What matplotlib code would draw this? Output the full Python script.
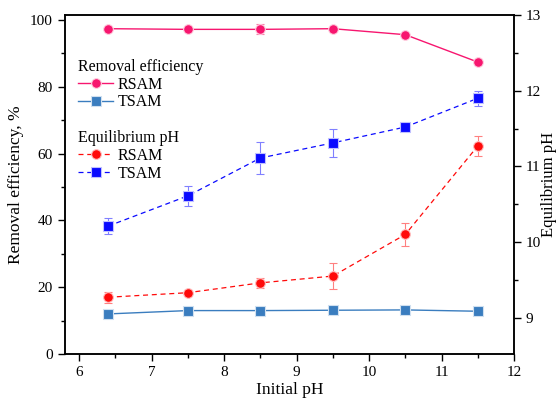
import matplotlib.pyplot as plt
from matplotlib.ticker import MultipleLocator

plt.rcParams['font.family'] = ['Liberation Serif', 'DejaVu Serif']
plt.rcParams['xtick.direction'] = 'out'
plt.rcParams['ytick.direction'] = 'out'

# data
initial_ph = [6.4, 7.5, 8.5, 9.5, 10.5, 11.5]
rsam_removal = [97.4, 97.2, 97.2, 97.4, 95.6, 87.4]
rsam_removal_err = [0.5, 0.6, 1.5, 0.5, 0.6, 1.0]
tsam_removal = [12.0, 13.0, 13.0, 13.1, 13.2, 12.8]
tsam_removal_err = [0.3, 0.3, 0.3, 0.3, 0.3, 0.3]
rsam_eq_ph = [9.27, 9.33, 9.46, 9.55, 10.10, 11.27]
rsam_eq_err = [0.07, 0.04, 0.07, 0.17, 0.15, 0.13]
tsam_eq_ph = [10.21, 10.61, 11.11, 11.31, 11.52, 11.90]
tsam_eq_err = [0.11, 0.13, 0.21, 0.19, 0.03, 0.10]

fig = plt.figure(figsize=(5.57, 4.0), dpi=100)
ax = fig.add_axes([0.116, 0.115, 0.807, 0.8475])
ax2 = ax.twinx()

pink = '#f7166f'
steel = '#3a7dbf'
red = '#ff0a0a'
blue = '#0a0aff'

l1 = ax.errorbar(initial_ph, rsam_removal, yerr=rsam_removal_err, color=pink,
                 marker='o', ms=7, mec='#ffd0e0', mew=0.8, lw=1.0, capsize=3,
                 elinewidth=0.8, ecolor='#f77aa8')
l2 = ax.errorbar(initial_ph, tsam_removal, yerr=tsam_removal_err, color=steel,
                 marker='s', ms=6.5, mec='#d0e0f0', mew=0.8, lw=1.0, capsize=3,
                 elinewidth=0.8, ecolor='#8ab0d8')

l3 = ax2.errorbar(initial_ph, rsam_eq_ph, yerr=rsam_eq_err, color=red,
                  marker='o', ms=7, mec='#ffc0c0', mew=0.8, lw=0.9, ls=(0, (4, 3)),
                  capsize=3, elinewidth=0.8, ecolor='#ff8080')
l4 = ax2.errorbar(initial_ph, tsam_eq_ph, yerr=tsam_eq_err, color=blue,
                  marker='s', ms=6.5, mec='#c0c0ff', mew=0.8, lw=0.9, ls=(0, (4, 3)),
                  capsize=3, elinewidth=0.8, ecolor='#8080ff')

ax.set_xlim(5.8, 12)
ax.set_ylim(0, 101.5)
ax2.set_ylim(8.52, 13.0)

ax.xaxis.set_major_locator(MultipleLocator(1))
ax.xaxis.set_minor_locator(MultipleLocator(0.5))
ax.yaxis.set_major_locator(MultipleLocator(20))
ax.yaxis.set_minor_locator(MultipleLocator(10))
ax2.yaxis.set_major_locator(MultipleLocator(1))
ax2.yaxis.set_minor_locator(MultipleLocator(0.5))

for a in (ax, ax2):
    a.tick_params(which='major', length=5, width=1.0, labelsize=11)
    a.tick_params(which='minor', length=3, width=1.0)
    for s in a.spines.values():
        s.set_linewidth(1.1)

ax.set_xlabel('Initial pH', fontsize=12.5, labelpad=2)
ax.set_ylabel('Removal efficiency, %', fontsize=12.5, labelpad=4)
ax2.set_ylabel('Equilibrium pH', fontsize=12, labelpad=0)

leg_kw = dict(loc='upper left', frameon=False, fontsize=11.5, title_fontsize=11.5,
              handlelength=2.2, handletextpad=0.3, labelspacing=0.1,
              borderaxespad=0.3, borderpad=0.2)
leg1 = ax.legend([l1[0], l2[0]], ['RSAM', 'TSAM'], title='Removal efficiency',
                 bbox_to_anchor=(0.012, 0.893), **leg_kw)
leg1._legend_box.align = 'left'
ax.add_artist(leg1)
leg2 = ax.legend([l3[0], l4[0]], ['RSAM', 'TSAM'], title='Equilibrium pH',
                 bbox_to_anchor=(0.012, 0.683), **leg_kw)
leg2._legend_box.align = 'left'

fig.savefig('out.png', dpi=100)
